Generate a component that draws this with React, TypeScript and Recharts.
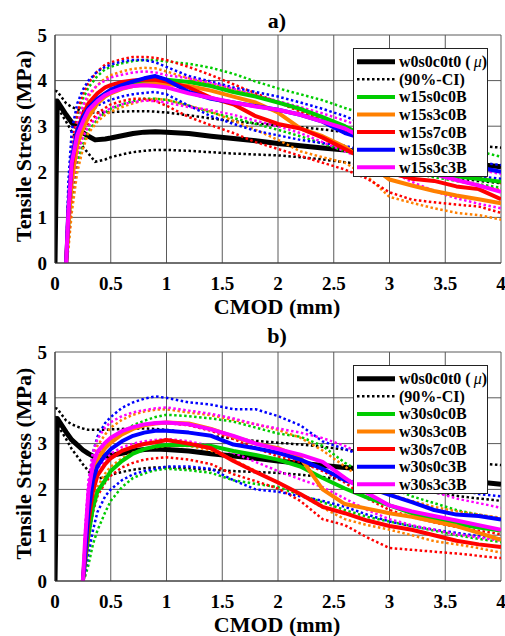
import React from 'react';
import { LineChart, Line, XAxis, YAxis, CartesianGrid } from 'recharts';

// ---------- reference (w0s0c0t0) : same in both panels ----------
const xsRef = [0, 0.02, 0.1, 0.15, 0.2, 0.25, 0.3, 0.36, 0.45, 0.5, 0.6, 0.7, 0.8, 0.9, 1.0, 1.2, 1.4, 1.6, 1.8, 2.0, 2.2, 2.4, 2.6, 2.8, 3.0, 3.2, 3.4, 3.6, 3.8, 4.0];
const refMean = [0, 3.55, 3.25, 3.08, 2.97, 2.86, 2.78, 2.7, 2.72, 2.74, 2.79, 2.84, 2.87, 2.88, 2.87, 2.84, 2.78, 2.73, 2.68, 2.62, 2.57, 2.52, 2.48, 2.43, 2.38, 2.33, 2.28, 2.22, 2.16, 2.11];
const refHi = [3.78, 3.76, 3.5, 3.42, 3.37, 3.33, 3.3, 3.3, 3.3, 3.31, 3.32, 3.33, 3.33, 3.32, 3.3, 3.24, 3.17, 3.11, 3.06, 3.02, 2.98, 2.93, 2.87, 2.82, 2.77, 2.72, 2.67, 2.62, 2.57, 2.53];
const refLo = [3.6, 3.42, 3.1, 2.88, 2.72, 2.55, 2.4, 2.22, 2.27, 2.32, 2.38, 2.43, 2.46, 2.48, 2.48, 2.46, 2.43, 2.4, 2.38, 2.36, 2.32, 2.27, 2.21, 2.15, 2.08, 2.0, 1.93, 1.86, 1.8, 1.75];

// ---------- panel a) ----------
const xsA = [0.1, 0.12, 0.15, 0.2, 0.25, 0.3, 0.38, 0.45, 0.5, 0.6, 0.7, 0.8, 0.9, 1.0, 1.2, 1.4, 1.6, 1.8, 2.0, 2.2, 2.4, 2.6, 2.8, 3.0, 3.2, 3.4, 3.6, 3.8, 4.0];
const w15s0c0B = [0, 0.9, 1.9, 2.7, 3.05, 3.3, 3.55, 3.7, 3.77, 3.87, 3.93, 3.97, 4.0, 4.02, 3.97, 3.88, 3.75, 3.65, 3.52, 3.38, 3.2, 3.0, 2.75, 2.45, 2.2, 2.0, 1.9, 1.84, 1.78];
const w15s0c0B_hi = [0, 1.4, 2.5, 3.2, 3.6, 3.85, 4.1, 4.25, 4.3, 4.38, 4.43, 4.45, 4.45, 4.42, 4.37, 4.28, 4.15, 3.98, 3.83, 3.7, 3.57, 3.4, 3.25, 3.1, 2.95, 2.8, 2.6, 2.45, 2.33];
const w15s0c0B_lo = [0, 0.4, 1.3, 2.2, 2.6, 2.9, 3.15, 3.3, 3.38, 3.48, 3.55, 3.6, 3.6, 3.58, 3.45, 3.3, 3.18, 3.05, 2.92, 2.78, 2.62, 2.45, 2.3, 2.12, 1.98, 1.88, 1.8, 1.73, 1.65];
const w15s3c0B = [0, 0.8, 1.8, 2.6, 2.95, 3.2, 3.5, 3.65, 3.72, 3.82, 3.88, 3.92, 3.93, 3.92, 3.88, 3.78, 3.65, 3.52, 3.3, 2.95, 2.78, 2.55, 2.2, 1.83, 1.7, 1.58, 1.48, 1.4, 1.31];
const w15s3c0B_hi = [0, 1.2, 2.3, 3.0, 3.4, 3.65, 3.9, 4.05, 4.12, 4.2, 4.26, 4.28, 4.27, 4.2, 4.05, 3.92, 3.8, 3.68, 3.52, 3.35, 3.15, 2.9, 2.6, 2.3, 2.1, 1.95, 1.8, 1.7, 1.6];
const w15s3c0B_lo = [0, 0.3, 1.1, 2.0, 2.5, 2.85, 3.1, 3.25, 3.32, 3.42, 3.5, 3.57, 3.6, 3.58, 3.45, 3.32, 3.12, 2.92, 2.7, 2.45, 2.32, 2.2, 1.9, 1.45, 1.32, 1.2, 1.1, 1.05, 0.95];
const w15s7c0B = [0, 1.1, 2.1, 2.9, 3.25, 3.5, 3.72, 3.85, 3.9, 3.97, 4.0, 4.02, 4.02, 3.98, 3.85, 3.62, 3.48, 3.22, 3.05, 2.95, 2.75, 2.5, 2.25, 1.98, 1.85, 1.8, 1.68, 1.62, 1.4];
const w15s7c0B_hi = [0, 1.5, 2.6, 3.3, 3.7, 3.95, 4.2, 4.35, 4.4, 4.47, 4.52, 4.52, 4.5, 4.45, 4.3, 4.12, 3.92, 3.72, 3.52, 3.32, 3.12, 2.92, 2.72, 2.52, 2.35, 2.2, 2.05, 1.9, 1.75];
const w15s7c0B_lo = [0, 0.5, 1.5, 2.4, 2.8, 3.05, 3.28, 3.4, 3.48, 3.55, 3.6, 3.6, 3.55, 3.45, 3.2, 3.02, 2.85, 2.65, 2.5, 2.35, 2.2, 2.05, 1.85, 1.55, 1.39, 1.33, 1.28, 1.24, 1.1];
const w15s0c3B = [0, 1.2, 2.3, 2.9, 3.2, 3.4, 3.6, 3.72, 3.8, 3.9, 3.98, 4.05, 4.1, 4.02, 3.75, 3.6, 3.52, 3.44, 3.36, 3.25, 3.1, 2.85, 2.7, 2.55, 2.45, 2.35, 2.2, 2.1, 2.0];
const w15s0c3B_hi = [0, 1.8, 2.9, 3.5, 3.8, 4.0, 4.2, 4.3, 4.35, 4.42, 4.45, 4.45, 4.4, 4.3, 4.1, 3.98, 3.85, 3.75, 3.65, 3.52, 3.38, 3.22, 3.02, 2.82, 2.62, 2.45, 2.3, 2.2, 2.15];
const w15s0c3B_lo = [0, 0.8, 1.9, 2.7, 3.0, 3.25, 3.45, 3.53, 3.58, 3.65, 3.7, 3.73, 3.75, 3.7, 3.45, 3.22, 3.05, 2.9, 2.8, 2.7, 2.63, 2.57, 2.45, 2.32, 2.2, 2.08, 1.98, 1.9, 1.85];
const w15s3c3B = [0, 1.1, 2.2, 2.8, 3.1, 3.35, 3.55, 3.68, 3.74, 3.83, 3.88, 3.9, 3.88, 3.85, 3.72, 3.62, 3.52, 3.43, 3.36, 3.25, 3.1, 2.95, 2.7, 2.45, 2.2, 1.95, 1.82, 1.7, 1.56];
const w15s3c3B_hi = [0, 1.3, 2.4, 3.05, 3.45, 3.7, 3.9, 4.0, 4.07, 4.13, 4.18, 4.2, 4.18, 4.12, 4.05, 3.95, 3.82, 3.68, 3.55, 3.42, 3.28, 3.12, 2.95, 2.75, 2.5, 2.3, 2.15, 2.05, 1.95];
const w15s3c3B_lo = [0, 0.6, 1.6, 2.4, 2.75, 3.0, 3.2, 3.32, 3.4, 3.48, 3.53, 3.56, 3.55, 3.52, 3.42, 3.35, 3.25, 3.12, 3.0, 2.85, 2.65, 2.45, 2.25, 2.02, 1.78, 1.58, 1.42, 1.3, 1.2];

// ---------- panel b) ----------
const xsB = [0.25, 0.27, 0.3, 0.34, 0.38, 0.45, 0.5, 0.6, 0.7, 0.8, 0.9, 1.0, 1.2, 1.4, 1.6, 1.8, 2.0, 2.2, 2.4, 2.6, 2.8, 3.0, 3.2, 3.4, 3.6, 3.8, 4.0];
const w30s0c0B = [0, 0.4, 1.0, 1.6, 1.95, 2.2, 2.4, 2.62, 2.78, 2.88, 2.94, 2.97, 2.97, 2.95, 2.84, 2.75, 2.65, 2.5, 2.25, 2.02, 1.82, 1.65, 1.48, 1.35, 1.25, 1.17, 1.1];
const w30s0c0B_hi = [0, 0.6, 1.5, 2.2, 2.55, 2.9, 3.05, 3.25, 3.4, 3.5, 3.58, 3.63, 3.6, 3.55, 3.48, 3.35, 3.22, 3.15, 2.95, 2.58, 2.3, 2.05, 1.85, 1.7, 1.55, 1.45, 1.35];
const w30s0c0B_lo = [0, 0.1, 0.35, 0.8, 1.1, 1.5, 1.75, 2.05, 2.25, 2.35, 2.42, 2.45, 2.42, 2.36, 2.2, 2.12, 2.05, 1.88, 1.72, 1.55, 1.4, 1.3, 1.2, 1.1, 1.0, 0.92, 0.85];
const w30s3c0B = [0, 0.7, 1.7, 2.35, 2.65, 2.9, 3.02, 3.2, 3.32, 3.4, 3.44, 3.46, 3.44, 3.32, 3.15, 3.0, 2.9, 2.7, 2.0, 1.68, 1.58, 1.48, 1.4, 1.3, 1.2, 1.05, 0.9];
const w30s3c0B_hi = [0, 1.0, 2.0, 2.65, 2.95, 3.2, 3.35, 3.52, 3.63, 3.7, 3.74, 3.75, 3.68, 3.62, 3.52, 3.42, 3.3, 3.13, 2.85, 2.5, 2.15, 1.9, 1.75, 1.62, 1.52, 1.45, 1.38];
const w30s3c0B_lo = [0, 0.4, 1.1, 1.7, 2.05, 2.35, 2.5, 2.68, 2.8, 2.88, 2.92, 2.95, 2.95, 2.85, 2.65, 2.4, 2.15, 1.89, 1.6, 1.35, 1.22, 1.12, 1.0, 0.87, 0.8, 0.72, 0.62];
const w30s7c0B = [0, 0.5, 1.3, 1.95, 2.3, 2.55, 2.68, 2.84, 2.93, 2.99, 3.03, 3.08, 3.0, 2.9, 2.62, 2.38, 2.15, 1.9, 1.62, 1.48, 1.32, 1.2, 1.12, 1.0, 0.88, 0.8, 0.74];
const w30s7c0B_hi = [0, 0.8, 1.8, 2.45, 2.75, 3.0, 3.12, 3.28, 3.36, 3.42, 3.45, 3.45, 3.4, 3.28, 3.1, 2.9, 2.72, 2.6, 2.4, 2.15, 1.8, 1.55, 1.4, 1.28, 1.18, 1.1, 1.02];
const w30s7c0B_lo = [0, 0.3, 0.9, 1.5, 1.85, 2.15, 2.3, 2.48, 2.58, 2.65, 2.68, 2.7, 2.65, 2.55, 2.33, 2.18, 2.02, 1.75, 1.35, 1.22, 0.95, 0.72, 0.68, 0.64, 0.6, 0.55, 0.5];
const w30s0c3B = [0, 0.6, 1.5, 2.2, 2.5, 2.75, 2.88, 3.05, 3.17, 3.24, 3.28, 3.28, 3.24, 3.17, 2.98, 2.9, 2.8, 2.65, 2.45, 2.2, 2.05, 1.88, 1.72, 1.55, 1.45, 1.42, 1.34];
const w30s0c3B_hi = [0, 1.0, 2.1, 2.8, 3.15, 3.45, 3.58, 3.78, 3.9, 3.98, 4.03, 4.0, 3.9, 3.85, 3.75, 3.75, 3.6, 3.4, 3.05, 2.88, 2.7, 2.5, 2.3, 2.15, 2.0, 1.9, 1.85];
const w30s0c3B_lo = [0, 0.2, 0.6, 1.1, 1.5, 1.85, 2.0, 2.2, 2.33, 2.4, 2.45, 2.5, 2.5, 2.45, 2.2, 2.0, 1.95, 1.85, 1.75, 1.62, 1.45, 1.3, 1.2, 1.12, 1.05, 0.98, 0.92];
const w30s3c3B = [0, 0.9, 1.95, 2.55, 2.82, 3.02, 3.13, 3.27, 3.36, 3.42, 3.45, 3.46, 3.42, 3.31, 3.17, 3.0, 2.88, 2.76, 2.6, 2.25, 1.92, 1.65, 1.52, 1.42, 1.32, 1.22, 1.12];
const w30s3c3B_hi = [0, 1.1, 2.2, 2.8, 3.1, 3.35, 3.47, 3.6, 3.68, 3.73, 3.77, 3.79, 3.72, 3.65, 3.55, 3.42, 3.33, 3.24, 3.12, 2.95, 2.7, 2.4, 2.15, 1.95, 1.8, 1.7, 1.6];
const w30s3c3B_lo = [0, 0.6, 1.5, 2.15, 2.45, 2.65, 2.78, 2.92, 3.0, 3.05, 3.08, 3.1, 3.05, 2.95, 2.8, 2.6, 2.4, 2.22, 2.05, 1.8, 1.55, 1.35, 1.22, 1.12, 1.02, 0.95, 0.88];

// ---------- axes ----------
const xTicks = [0, 0.5, 1, 1.5, 2, 2.5, 3, 3.5, 4];
const yTicks = [0, 1, 2, 3, 4, 5];

const GREEN = '#00cc00';
const ORANGE = '#ff8000';
const RED = '#ff0000';
const BLUE = '#0000ff';
const MAGENTA = '#ff00ff';

const FONT = 'Liberation Serif';

type Group = { name: string; color: string; mean: number[]; hi: number[]; lo: number[] };

const groupsA: Group[] = [
  { name: 'w15s0c0B', color: GREEN, mean: w15s0c0B, hi: w15s0c0B_hi, lo: w15s0c0B_lo },
  { name: 'w15s3c0B', color: ORANGE, mean: w15s3c0B, hi: w15s3c0B_hi, lo: w15s3c0B_lo },
  { name: 'w15s7c0B', color: RED, mean: w15s7c0B, hi: w15s7c0B_hi, lo: w15s7c0B_lo },
  { name: 'w15s0c3B', color: BLUE, mean: w15s0c3B, hi: w15s0c3B_hi, lo: w15s0c3B_lo },
  { name: 'w15s3c3B', color: MAGENTA, mean: w15s3c3B, hi: w15s3c3B_hi, lo: w15s3c3B_lo },
];
const groupsB: Group[] = [
  { name: 'w30s0c0B', color: GREEN, mean: w30s0c0B, hi: w30s0c0B_hi, lo: w30s0c0B_lo },
  { name: 'w30s3c0B', color: ORANGE, mean: w30s3c0B, hi: w30s3c0B_hi, lo: w30s3c0B_lo },
  { name: 'w30s7c0B', color: RED, mean: w30s7c0B, hi: w30s7c0B_hi, lo: w30s7c0B_lo },
  { name: 'w30s0c3B', color: BLUE, mean: w30s0c3B, hi: w30s0c3B_hi, lo: w30s0c3B_lo },
  { name: 'w30s3c3B', color: MAGENTA, mean: w30s3c3B, hi: w30s3c3B_hi, lo: w30s3c3B_lo },
];

const pts = (xs: number[], ys: number[]) => xs.map((x, i) => ({ x, y: ys[i] }));

const DOT = '2.5 2.5';

function Panel({ title, xs, groups, top, titleY, legendTop }: { title: string; xs: number[]; groups: Group[]; top: number; titleY: number; legendTop: number }) {
  const plotBottom = 318 - 55;
  const yMid = (top + plotBottom) / 2 - 3;
  const tickStyle = { fill: '#000', fontSize: 19, fontWeight: 'bold' as const, fontFamily: FONT };
  const legendRows = [
    { label: 'mu', color: '#000', w: 5, dash: undefined as string | undefined },
    { label: '(90%-CI)', color: '#000', w: 2.5, dash: DOT },
    ...groups.map((g) => ({ label: g.name, color: g.color, w: 4, dash: undefined as string | undefined })),
  ];
  return (
    <div style={{ position: 'relative', width: 505, height: 318, fontFamily: FONT }}>
      <LineChart width={505} height={318} margin={{ top, right: 4, bottom: 0, left: 0 }}>
        <CartesianGrid stroke="#5a5a5a" strokeWidth={1} />
        <XAxis
          dataKey="x"
          type="number"
          domain={[0, 4]}
          ticks={xTicks}
          interval={0}
          allowDataOverflow
          height={55}
          tickSize={0}
          tickMargin={14}
          tick={tickStyle}
          axisLine={{ stroke: '#333' }}
        />
        <YAxis
          type="number"
          domain={[0, 5]}
          ticks={yTicks}
          interval={0}
          allowDataOverflow
          width={55}
          tickSize={0}
          tickMargin={8}
          tick={tickStyle}
          axisLine={{ stroke: '#333' }}
        />
        <Line data={pts(xsRef, refMean)} dataKey="y" stroke="#000" strokeWidth={5} dot={false} activeDot={false} isAnimationActive={false} strokeLinejoin="round" />
        <Line data={pts(xsRef, refHi)} dataKey="y" stroke="#000" strokeWidth={2.5} strokeDasharray={DOT} dot={false} activeDot={false} isAnimationActive={false} />
        <Line data={pts(xsRef, refLo)} dataKey="y" stroke="#000" strokeWidth={2.5} strokeDasharray={DOT} dot={false} activeDot={false} isAnimationActive={false} />
        {groups.map((g) => (
          <Line key={g.name + 'hi'} data={pts(xs, g.hi)} dataKey="y" stroke={g.color} strokeWidth={2.5} strokeDasharray={DOT} dot={false} activeDot={false} isAnimationActive={false} />
        ))}
        {groups.map((g) => (
          <Line key={g.name + 'lo'} data={pts(xs, g.lo)} dataKey="y" stroke={g.color} strokeWidth={2.5} strokeDasharray={DOT} dot={false} activeDot={false} isAnimationActive={false} />
        ))}
        {groups.map((g) => (
          <Line key={g.name} data={pts(xs, g.mean)} dataKey="y" stroke={g.color} strokeWidth={4} dot={false} activeDot={false} isAnimationActive={false} strokeLinejoin="round" />
        ))}
      </LineChart>
      <svg width={505} height={318} style={{ position: 'absolute', left: 0, top: 0, pointerEvents: 'none', overflow: 'visible' }}>
        <text x={277} y={titleY} textAnchor="middle" fontFamily={FONT} fontWeight="bold" fontSize={22} fill="#000">{title}</text>
        <text x={277} y={314} textAnchor="middle" fontFamily={FONT} fontWeight="bold" fontSize={22} fill="#000">CMOD (mm)</text>
        <text x={31} y={yMid} transform={`rotate(-90, 31, ${yMid})`} textAnchor="middle" fontFamily={FONT} fontWeight="bold" fontSize={22} fill="#000">Tensile Stress (MPa)</text>
        <g transform={`translate(353, ${legendTop})`}>
          <rect x={0.5} y={0.5} width={134} height={128} fill="#fff" stroke="#222" strokeWidth={1} />
          {legendRows.map((r, i) => {
            const cy = 13.7 + i * 17.6;
            return (
              <g key={i}>
                <line x1={4} x2={42} y1={cy} y2={cy} stroke={r.color} strokeWidth={r.w} strokeDasharray={r.dash} />
                <text x={46} y={cy + 5.5} fontFamily={FONT} fontWeight="bold" fontSize={16} fill="#000">
                  {r.label === 'mu' ? (
                    <>
                      w0s0c0t0 (<tspan fontStyle="italic" fontWeight="normal">{'\u2009μ'}</tspan>)
                    </>
                  ) : (
                    r.label
                  )}
                </text>
              </g>
            );
          })}
        </g>
      </svg>
    </div>
  );
}

export default function App() {
  return (
    <div style={{ position: 'absolute', left: 0, top: 0, width: 505, height: 636, background: '#fff', overflow: 'hidden' }}>
      <Panel title="a)" xs={xsA} groups={groupsA} top={35} titleY={28} legendTop={48} />
      <Panel title="b)" xs={xsB} groups={groupsB} top={34} titleY={25} legendTop={47} />
    </div>
  );
}
